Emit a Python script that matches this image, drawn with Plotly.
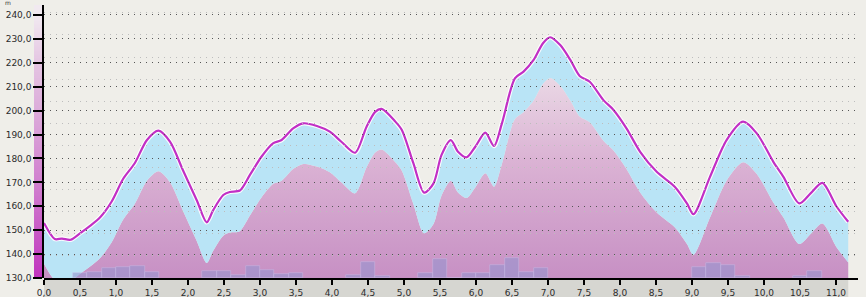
import plotly.graph_objects as go

# distance (km) and elevation profile (m)
dist = [0.00, 0.15, 0.25, 0.37, 0.50, 0.64, 0.78, 0.94, 1.10, 1.26, 1.43, 1.59, 1.75, 1.93, 2.12,
        2.26, 2.35, 2.49, 2.58, 2.72, 2.86, 3.02, 3.18, 3.30, 3.46, 3.60, 3.79, 3.97, 4.13, 4.32,
        4.48, 4.60, 4.69, 4.88, 4.97, 5.13, 5.28, 5.41, 5.52, 5.65, 5.75, 5.87, 5.99, 6.13, 6.25,
        6.36, 6.54, 6.66, 6.80, 6.93, 7.03, 7.17, 7.31, 7.44, 7.58, 7.77, 7.91, 8.09, 8.28, 8.51,
        8.76, 8.93, 9.02, 9.25, 9.48, 9.71, 9.90, 10.13, 10.27, 10.49, 10.65, 10.81, 11.01, 11.17]
elev = [153.0, 146.3, 146.5, 146.0, 148.7, 151.8, 155.4, 162.0, 171.5, 178.0, 187.7, 191.6, 187.0, 175.1, 162.6,
        153.3, 158.4, 164.7, 166.0, 166.6, 173.1, 180.7, 186.3, 187.7, 192.6, 194.7, 193.6, 191.2, 187.0, 182.4,
        193.3, 199.5, 200.7, 195.4, 191.9, 178.0, 165.7, 169.6, 181.4, 187.7, 182.8, 180.5, 184.9, 190.8, 185.2,
        194.7, 213.5, 216.3, 221.2, 228.2, 230.7, 227.4, 221.2, 214.5, 212.1, 204.4, 200.3, 192.6, 182.8, 174.4,
        168.2, 161.2, 156.7, 172.3, 187.7, 195.4, 190.5, 178.6, 172.3, 161.2, 165.5, 169.8, 159.8, 153.5]
lower = [136.0, 129.3, 129.5, 129.0, 131.7, 134.8, 138.4, 145.0, 154.5, 161.0, 170.7, 174.6, 170.0, 158.1, 145.6,
         136.3, 141.4, 147.7, 149.0, 149.6, 156.1, 163.7, 169.3, 170.7, 175.6, 177.7, 176.6, 174.2, 170.0, 165.4,
         176.3, 182.5, 183.7, 178.4, 174.9, 161.0, 148.7, 152.6, 164.4, 170.7, 165.8, 163.5, 167.9, 173.8, 168.2,
         177.7, 196.5, 199.3, 204.2, 211.2, 213.7, 210.4, 204.2, 197.5, 195.1, 187.4, 183.3, 175.6, 165.8, 157.4,
         151.2, 144.2, 139.7, 155.3, 170.7, 178.4, 173.5, 161.6, 155.3, 144.2, 148.5, 152.8, 142.8, 136.5]

# bottom bars (centre km, top value m)
bar_km = [0.5, 0.7, 0.9, 1.1, 1.3, 1.5, 2.3, 2.5, 2.7, 2.9, 3.1, 3.3, 3.5, 4.3, 4.5, 4.7,
          5.3, 5.5, 5.7, 5.9, 6.1, 6.3, 6.5, 6.7, 6.9, 9.1, 9.3, 9.5, 9.7, 10.5, 10.7]
bar_top = [132.0, 132.6, 134.0, 134.6, 135.1, 132.6, 132.9, 132.9, 131.2, 135.0, 133.3, 131.6, 131.9, 131.2, 136.5, 130.8,
           131.9, 137.8, 130.2, 131.9, 132.3, 135.6, 138.2, 132.5, 134.3, 134.7, 136.1, 135.6, 130.9, 130.9, 132.9]
bar_width = 0.2

y_ticks = [130, 140, 150, 160, 170, 180, 190, 200, 210, 220, 230, 240]
x_ticks = [0.0, 0.5, 1.0, 1.5, 2.0, 2.5, 3.0, 3.5, 4.0, 4.5, 5.0, 5.5, 6.0, 6.5, 7.0, 7.5, 8.0, 8.5,
           9.0, 9.5, 10.0, 10.5, 11.0]
light_grid = [0, 1, 2, 3, 4, 5, 6, 7, 8, 9, 10, 11, 12]

W, H = 866, 297
Y_RANGE = [130, 244.18]
X_RANGE = [0, 11.3056]
main_dom = [44 / W, 858 / W]
strip_dom = [34 / W, 44 / W]

font = dict(family="DejaVu Sans", size=9, color="#2b2b2b")

fig = go.Figure()

# pink gradient area under lower profile
fig.add_trace(go.Scatter(
    x=dist, y=lower, mode="lines", line=dict(width=0, shape="spline", smoothing=0.8),
    fill="tozeroy",
    fillgradient=dict(type="vertical", start=130, stop=240,
                      colorscale=[[0, "#c790c4"], [0.45, "#dbb3d4"], [0.75, "#e9d6e4"], [1, "#f3edf1"]]),
    hoverinfo="skip", showlegend=False, xaxis="x", yaxis="y"))
# blue band up to elevation line
fig.add_trace(go.Scatter(
    x=dist, y=elev, mode="lines", line=dict(width=0, shape="spline", smoothing=0.8),
    fill="tonexty", fillcolor="#b9e4f6",
    hoverinfo="skip", showlegend=False, xaxis="x", yaxis="y"))
# halo + line
fig.add_trace(go.Scatter(
    x=dist, y=elev, mode="lines", line=dict(width=4.5, color="rgba(255,255,255,0.9)", shape="spline", smoothing=0.8),
    hoverinfo="skip", showlegend=False, xaxis="x", yaxis="y"))
fig.add_trace(go.Scatter(
    x=dist, y=elev, mode="lines", line=dict(width=2.2, color="#c22fc5", shape="spline", smoothing=0.8),
    hoverinfo="skip", showlegend=False, xaxis="x", yaxis="y"))

# left colour strip
fig.add_trace(go.Heatmap(
    x=[0], y=y_ticks, z=[[v] for v in y_ticks], zmin=130, zmax=240, zsmooth="best",
    colorscale=[[0, "#c032be"], [0.1818, "#c85ac6"], [0.3636, "#d180cf"], [0.6364, "#dcabda"],
                [0.8182, "#e4c4e2"], [1, "#f1e9f0"]],
    showscale=False, hoverinfo="skip", xaxis="x2", yaxis="y2"))

# grid subplot (drawn above data) + bars
fig.add_trace(go.Scatter(x=[], y=[], xaxis="x3", yaxis="y3", showlegend=False))
fig.add_trace(go.Bar(
    x=bar_km, y=[t - 130 for t in bar_top], base=130, width=bar_width,
    marker=dict(color="rgba(148,148,206,0.58)", line=dict(width=0.6, color="rgba(205,195,235,0.7)")),
    hoverinfo="skip", showlegend=False, xaxis="x3", yaxis="y4"))

# gray band under x axis over data extent
fig.add_shape(type="rect", xref="x", yref="paper", x0=dist[0], x1=dist[-1], y0=-19 / 273, y1=0,
              fillcolor="#d6d6d1", line=dict(width=0), layer="below")

noax = dict(visible=False, showgrid=False, zeroline=False, automargin=False)

fig.update_layout(
    template="none",
    width=W, height=H,
    margin=dict(l=0, r=0, t=5, b=19, pad=0),
    paper_bgcolor="#efeee9", plot_bgcolor="rgba(0,0,0,0)",
    separators=", ",
    bargap=0,
    showlegend=False,
    xaxis=dict(domain=main_dom, range=X_RANGE, anchor="y", tickvals=x_ticks, tickformat=".1f",
               ticks="outside", ticklen=5, tickwidth=1.5, tickcolor="#000",
               showline=True, linecolor="#000", linewidth=1.5, showgrid=False, zeroline=False,
               tickfont=font, automargin=False),
    yaxis=dict(domain=[0, 1], range=Y_RANGE, anchor="x", **noax),
    xaxis2=dict(domain=strip_dom, anchor="y2", **noax),
    yaxis2=dict(domain=[0, 1], range=Y_RANGE, anchor="x2", **noax),
    xaxis3=dict(domain=main_dom, range=X_RANGE, anchor="y3", **noax),
    yaxis3=dict(domain=[0, 1], range=[0, 273 / 22.1], anchor="x3", tickvals=light_grid, showticklabels=False,
                ticks="", showgrid=True, gridcolor="#bdbdbd", gridwidth=1, griddash="1px,5px",
                showline=False, zeroline=False, automargin=False),
    yaxis4=dict(domain=[0, 1], range=Y_RANGE, anchor="x3", overlaying="y3", side="left",
                tickvals=y_ticks, tickformat=".1f",
                ticks="outside", ticklen=9, tickwidth=2, tickcolor="#000",
                showline=True, linecolor="#000", linewidth=1.5,
                showgrid=True, gridcolor="#555555", gridwidth=1, griddash="1px,5px",
                zeroline=False, tickfont=font, automargin=False),
    annotations=[dict(text="m", xref="paper", yref="paper", x=3 / W, y=1 + 3 / 273, xanchor="left",
                      yanchor="middle", showarrow=False, font=dict(family="DejaVu Sans", size=6, color="#333"))],
)

fig.write_html("out.html")
